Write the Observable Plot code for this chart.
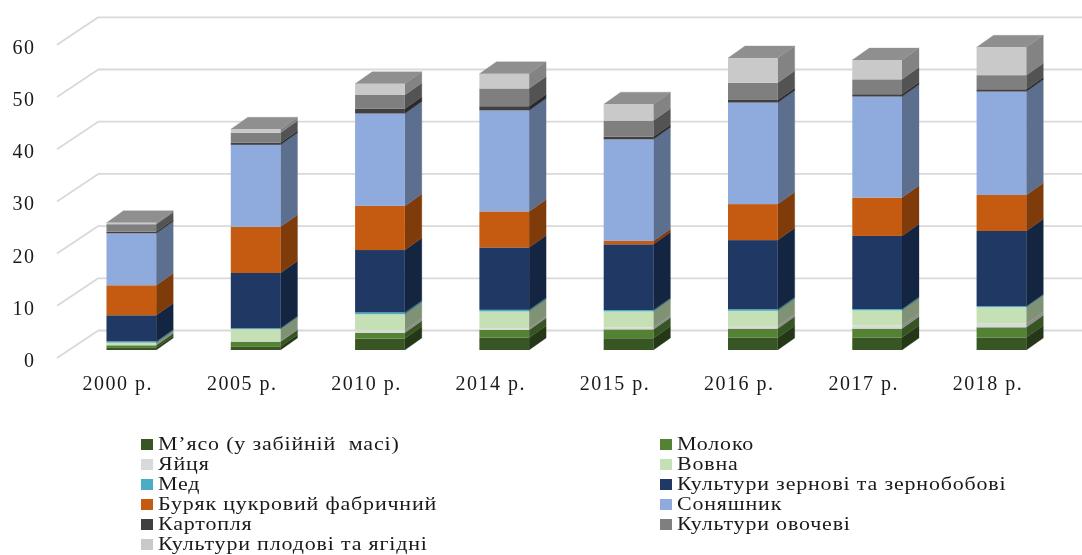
<!DOCTYPE html>
<html lang="uk">
<head>
<meta charset="utf-8">
<script src="https://cdn.jsdelivr.net/npm/d3@7"></script>
<script src="https://cdn.jsdelivr.net/npm/@observablehq/plot@0.6"></script>
<style>
  html, body { margin: 0; padding: 0; background: #fff; overflow: hidden; width: 1082px; height: 555px; }
  #chart svg { display: block; }
  #chart, #legend { filter: blur(0.4px); }
  #legend { position: relative; height: 130px; font: 18px "Liberation Serif", serif; letter-spacing: 0.68px; color: #1a1a1a; }
  .item { position: absolute; white-space: pre; line-height: 19.9px; height: 19.9px; }
  .item i { position: absolute; left: -17px; top: 4px; width: 12px; height: 11px; }
  .item span { display: inline-block; transform: scaleX(1.22); transform-origin: 0 50%; }
</style>
</head>
<body>
<div id="chart"></div>
<div id="legend"></div>
<script>
const years = ["2000 р.", "2005 р.", "2010 р.", "2014 р.", "2015 р.", "2016 р.", "2017 р.", "2018 р."];
const seriesNames = [
  "М’ясо (у забійній  масі)", "Молоко", "Яйця", "Вовна", "Мед",
  "Культури зернові та зернобобові", "Буряк цукровий фабричний", "Соняшник",
  "Картопля", "Культури овочеві", "Культури плодові та ягідні"
];
const seriesColors = ["#375623", "#548235", "#d9d9d9", "#c5e0b4", "#4bacc6", "#1f3864", "#c55a11", "#8faadc", "#404040", "#7f7f7f", "#c9c9c9"];

const meat      = [0.4, 0.6, 2.2, 2.35, 2.25, 2.35, 2.4, 2.4];
const milk      = [0.5, 1.0, 1.1, 1.5, 1.7, 1.75, 1.7, 1.95];
const eggs      = [0.05, 0.1, 0.5, 0.3, 0.4, 0.5, 0.6, 0.7];
const wool      = [0.45, 2.3, 3.05, 3.25, 3.05, 2.9, 2.9, 3.15];
const honey     = [0.25, 0.15, 0.35, 0.3, 0.25, 0.3, 0.25, 0.2];
const grain     = [5.0, 10.6, 11.95, 11.95, 12.6, 13.25, 14.0, 14.4];
const beet      = [5.75, 8.85, 8.45, 6.9, 0.65, 6.9, 7.35, 6.9];
const sunflower = [9.95, 15.7, 17.7, 19.35, 19.45, 19.45, 19.35, 19.8];
const potato    = [0.3, 0.4, 0.9, 0.8, 0.5, 0.5, 0.45, 0.45];
const vegetable = [1.45, 1.9, 2.65, 3.4, 3.1, 3.3, 2.85, 2.7];
const fruit     = [0.3, 0.7, 2.15, 2.8, 3.15, 4.75, 3.7, 5.35];
const yTicks = [0, 10, 20, 30, 40, 50, 60];

const seriesValues = [meat, milk, eggs, wool, honey, grain, beet, sunflower, potato, vegetable, fruit];
const rows = seriesNames.flatMap((series, s) =>
  years.map((year, i) => ({year, series, value: seriesValues[s][i]})));

// Depth of the pseudo-3D drawing
const barDepth = {dx: 17, dy: -12};
const wallShift = -20, floorFront = 8, wallFrontX = 57, wallBackX = 99;

const svgNS = "http://www.w3.org/2000/svg";
function poly(points, fill) {
  const p = document.createElementNS(svgNS, "polygon");
  p.setAttribute("points", points.map(q => q.join(",")).join(" "));
  p.setAttribute("fill", fill);
  p.setAttribute("stroke", fill);
  p.setAttribute("stroke-width", 0.3);
  return p;
}

// Side and top faces, drawn from the same stacked scaled values as the front.
function depthFaces(index, scales, values) {
  const g = document.createElementNS(svgNS, "g");
  const bw = scales.x.bandwidth(), {dx, dy} = barDepth;
  const topOf = new Map();
  for (const i of index) {
    const left = values.x[i], right = left + bw;
    const y1 = values.y1[i], y2 = values.y2[i], c = values.fill[i];
    g.appendChild(poly([[right, y1], [right + dx, y1 + dy], [right + dx, y2 + dy], [right, y2]], d3.rgb(c).darker(1.2).formatHex()));
    const yTop = Math.min(y1, y2);
    if (!topOf.has(left) || yTop < topOf.get(left).yTop) topOf.set(left, {yTop, c});
  }
  for (const [left, {yTop, c}] of topOf) {
    g.appendChild(poly([[left, yTop], [left + bw, yTop], [left + bw + dx, yTop + dy], [left + dx, yTop + dy]], d3.rgb(c).darker(0.95).formatHex()));
  }
  return g;
}

// Diagonals on the left wall from the front edge of the floor to the back wall.
function wallDiagonals(index, scales, values) {
  const g = document.createElementNS(svgNS, "g");
  for (const i of index) {
    const l = document.createElementNS(svgNS, "line");
    l.setAttribute("x1", wallFrontX); l.setAttribute("y1", values.y[i] + floorFront);
    l.setAttribute("x2", wallBackX);  l.setAttribute("y2", values.y[i] + wallShift);
    l.setAttribute("stroke", "#d9d9d9"); l.setAttribute("stroke-width", 1.8);
    g.appendChild(l);
  }
  return g;
}

const stackOpts = {x: "year", y: "value", fill: "series", order: seriesNames};

const chart = Plot.plot({
  width: 1082,
  height: 425,
  marginLeft: 99,
  marginRight: 0,
  marginBottom: 75,
  marginTop: 0,
  style: {background: "#fff", color: "#1a1a1a", fontFamily: "'Liberation Serif', serif", fontSize: "20px", letterSpacing: "1.5px"},
  x: {domain: years, range: [69.2, 1063.6], paddingInner: 0.6, paddingOuter: 0.3, round: false, label: null},
  y: {domain: [0, 60], range: [350, 36.8], label: null},
  color: {domain: seriesNames, range: seriesColors},
  marks: [
    Plot.ruleY(yTicks, {y: d => d, stroke: "#d9d9d9", strokeWidth: 1.8, dy: wallShift}),
    Plot.ruleY(yTicks, {y: d => d, render: wallDiagonals}),
    Plot.axisY({anchor: "left", ticks: yTicks, tickSize: 0, tickPadding: 0, dx: -64, dy: 10, label: null, tickFormat: d => String(d)}),
    Plot.axisX({anchor: "bottom", tickSize: 0, tickPadding: 25.5, dx: -14, label: null, lineAnchor: "top"}),
    Plot.barY(rows, Plot.stackY({...stackOpts, render: depthFaces})),
    Plot.barY(rows, Plot.stackY(stackOpts))
  ]
});
document.getElementById("chart").appendChild(chart);

const legend = document.getElementById("legend");
const rowY = [9.5, 29.6, 49.7, 69.8, 89.9, 110];
const colX = [158, 677];
const rowOf = [0, 0, 1, 1, 2, 2, 3, 3, 4, 4, 5];
seriesNames.forEach((name, s) => {
  const d = document.createElement("div");
  d.className = "item";
  d.style.left = colX[s % 2] + "px";
  d.style.top = rowY[rowOf[s]] + "px";
  const sw = document.createElement("i");
  sw.style.background = seriesColors[s];
  d.appendChild(sw);
  const t = document.createElement("span");
  t.textContent = name;
  d.appendChild(t);
  legend.appendChild(d);
});
</script>
</body>
</html>
